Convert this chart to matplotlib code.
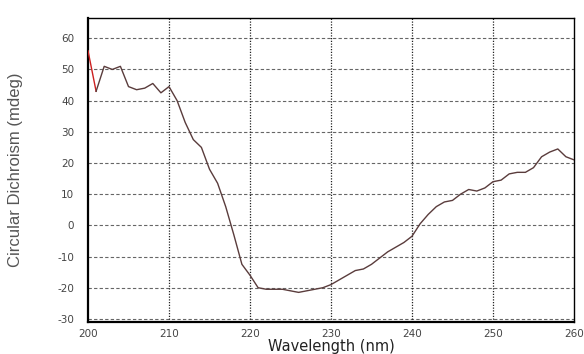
import matplotlib
matplotlib.use("Agg")
import matplotlib.pyplot as plt

plt.rcParams.update({'font.family': ['Liberation Sans', 'DejaVu Sans'], 'axes.unicode_minus': False})

wavelength = list(range(200, 261))
cd_mdeg = [56, 43, 51, 50, 51, 44.5, 43.5, 44, 45.5, 42.5,
           44.5, 40, 33, 27.5, 25, 18, 13.5, 6, -3, -12.5,
           -16, -20, -20.5, -20.5, -20.5, -21, -21.5, -21, -20.5, -20,
           -19, -17.5, -16, -14.5, -14, -12.5, -10.5, -8.5, -7, -5.5,
           -3.5, 0.5, 3.5, 6, 7.5, 8, 10, 11.5, 11, 12,
           14, 14.5, 16.5, 17, 17, 18.5, 22, 23.5, 24.5, 22, 21]
xticks = [200, 210, 220, 230, 240, 250, 260]
yticks = [-30, -20, -10, 0, 10, 20, 30, 40, 50, 60]

fig = plt.figure(figsize=(5.84, 3.54), dpi=100)
ax = fig.add_axes([88/584, 1-322/354, (574-88)/584, (322-18)/354])

ax.plot(wavelength[:2], cd_mdeg[:2], color='#cc2020', lw=1.0, zorder=3)
ax.plot(wavelength[1:], cd_mdeg[1:], color='#5a3c3c', lw=1.0, zorder=3)

ax.set_xlim(200, 260)
ax.set_ylim(-31, 66.5)
ax.set_xticks(xticks)
ax.set_yticks(yticks)
ax.tick_params(axis='x', length=0, labelsize=7.5, colors='#444444', pad=5)
ax.tick_params(axis='y', length=0, labelsize=7.5, colors='#444444', pad=10)
for lab in ax.get_xticklabels() + ax.get_yticklabels():
    lab.set_family('DejaVu Sans')

for y in yticks:
    ax.axhline(y, color='#666666', lw=0.8, ls=(0, (3, 2)), zorder=1)
for x in xticks[1:-1]:
    ax.axvline(x, color='#222222', lw=0.9, ls=(0, (1, 1.2)), zorder=1)

for side in ['left', 'bottom']:
    ax.spines[side].set_linewidth(1.6)
for side in ['top', 'right']:
    ax.spines[side].set_linewidth(1.0)

ax.set_xlabel('Wavelength (nm)', fontsize=10.5, color='#222222', family='DejaVu Sans', va='center')
ax.xaxis.set_label_coords(0.5, (322-347)/304)
ax.set_ylabel('Circular Dichroism (mdeg)', fontsize=12, color='#555555', va='center')
ax.yaxis.set_label_coords((16-88)/486, 0.5)

fig.savefig('out.png', dpi=100, facecolor='white')
